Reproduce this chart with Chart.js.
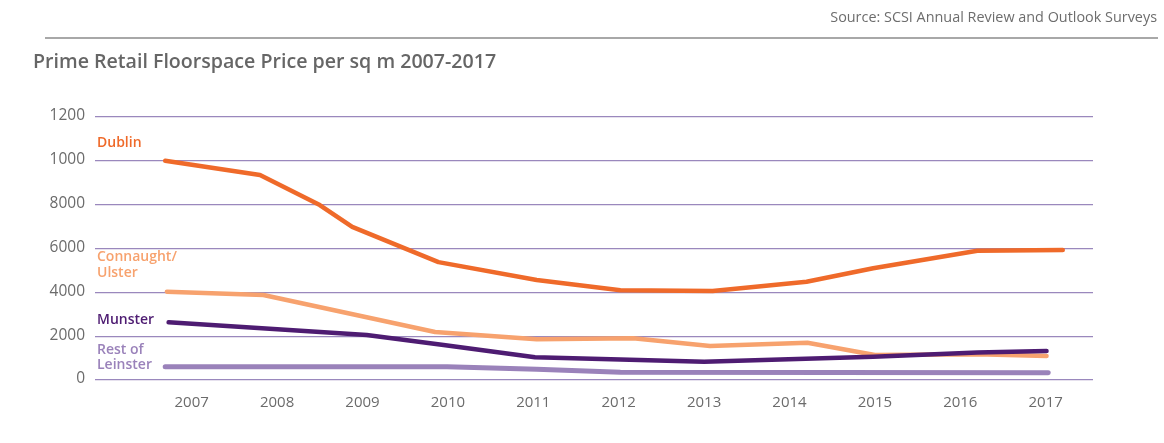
<!DOCTYPE html>
<html><head><meta charset="utf-8">
<script src="https://cdn.jsdelivr.net/npm/chart.js@4.4.1/dist/chart.umd.min.js"></script>
<style>
html,body{margin:0;padding:0;background:#fff;}
#wrap{position:relative;width:1164px;height:443px;overflow:hidden;font-family:"Open Sans",Lato,sans-serif;}
#c{position:absolute;left:0;top:0;}
#source{position:absolute;right:7px;top:10px;font-size:14.4px;line-height:14px;color:#6d6d6d;white-space:nowrap;}
#rule{position:absolute;left:45px;right:6px;top:37px;height:2px;background:#a8a8a8;}
#title{position:absolute;left:33px;top:51px;font-size:19.6px;line-height:19px;font-weight:600;color:#666;white-space:nowrap;}
</style></head>
<body><div id="wrap">
<canvas id="c" width="1164" height="443"></canvas>
<div id="source">Source: SCSI Annual Review and Outlook Surveys</div>
<div id="rule"></div>
<div id="title">Prime Retail Floorspace Price per sq m 2007-2017</div>
</div>
<script>
// Tick labels
const yearTicks = [2007, 2008, 2009, 2010, 2011, 2012, 2013, 2014, 2015, 2016, 2017];
const yTickValues = [0, 2000, 4000, 6000, 8000, 10000, 12000];
const yTickLabels = ["0", "2000", "4000", "6000", "8000", "1000", "1200"];

// Series (positions along the year axis as drawn in the source, values in EUR per sq m)
const dublinYears  = [2006.69, 2007.80, 2008.50, 2008.88, 2009.89, 2011.04, 2012.02, 2013.10, 2014.20, 2014.98, 2016.20, 2017.20];
const dublinValues = [10000,   9350,    7980,    6990,    5380,    4560,    4100,    4060,    4480,    5100,    5900,    5930];

const connaughtYears  = [2006.71, 2007.84, 2009.85, 2011.04, 2012.17, 2013.07, 2014.21, 2015.00, 2016.20, 2017.01];
const connaughtValues = [4030,    3880,    2190,    1860,    1900,    1550,    1700,    1140,    1180,    1095];

const munsterYears  = [2006.73, 2009.05, 2009.95, 2011.02, 2012.02, 2013.00, 2014.98, 2016.20, 2017.01];
const munsterValues = [2630,    2050,    1600,    1035,    940,     835,     1060,    1250,    1320];

const leinsterYears  = [2006.69, 2009.99, 2011.04, 2012.02, 2017.03];
const leinsterValues = [610,     610,     490,     350,     330];

const seriesLabels = [
  {lines: ["Dublin"], at: [10810], color: "#EF6A2A"},
  {lines: ["Connaught/", "Ulster"], at: [5610, 4880], color: "#F7A26E"},
  {lines: ["Munster"], at: [2740], color: "#4E1C72"},
  {lines: ["Rest of", "Leinster"], at: [1370, 680], color: "#9A82BA"}
];

const pts = (xs, ys) => xs.map((x, i) => ({x: x, y: ys[i]}));

const labelPlugin = {
  id: 'seriesLabels',
  afterDatasetsDraw(chart) {
    const ctx = chart.ctx, ys = chart.scales.y, left = chart.chartArea.left + 2;
    ctx.save();
    ctx.font = '600 14px "Open Sans", Lato, sans-serif';
    ctx.textBaseline = 'middle';
    ctx.textAlign = 'left';
    seriesLabels.forEach(l => {
      ctx.fillStyle = l.color;
      l.lines.forEach((t, i) => ctx.fillText(t, left, ys.getPixelForValue(l.at[i])));
    });
    ctx.restore();
  }
};

const common = {fill: false, tension: 0, pointRadius: 0, pointHoverRadius: 0,
  borderCapStyle: 'round', borderJoinStyle: 'round'};

new Chart(document.getElementById('c'), {
  type: 'line',
  data: {
    datasets: [
      Object.assign({label: 'Munster', data: pts(munsterYears, munsterValues), borderColor: '#4E1C72', borderWidth: 4.5}, common),
      Object.assign({label: 'Dublin', data: pts(dublinYears, dublinValues), borderColor: '#EF6A2A', borderWidth: 4.5}, common),
      Object.assign({label: 'Connaught/Ulster', data: pts(connaughtYears, connaughtValues), borderColor: '#F7A26E', borderWidth: 4.5}, common),
      Object.assign({label: 'Rest of Leinster', data: pts(leinsterYears, leinsterValues), borderColor: '#9A82BA', borderWidth: 5}, common)
    ]
  },
  options: {
    responsive: false,
    animation: false,
    events: [],
    layout: {padding: {top: 117, right: 71, left: 0, bottom: 0}},
    plugins: {legend: {display: false}, tooltip: {enabled: false}, title: {display: false}},
    scales: {
      x: {
        type: 'linear',
        min: 2005.868, max: 2017.554,
        afterFit: s => { s.height = 63; },
        grid: {display: false},
        border: {display: false},
        ticks: {stepSize: 1, includeBounds: false, color: '#6b6b6b', font: {family: '"Open Sans"', size: 15}, padding: 6,
          maxRotation: 0, autoSkip: false,
          callback: v => yearTicks.includes(v) ? String(v) : null}
      },
      y: {
        min: 0, max: 12000,
        afterBuildTicks: s => { s.ticks = yTickValues.map(v => ({value: v})); },
        afterFit: s => { s.width = 95; },
        grid: {color: '#9a88bd', lineWidth: 1.3, drawTicks: false},
        border: {display: false},
        ticks: {color: '#6b6b6b', font: {family: '"Open Sans"', size: 15.5}, padding: 10, labelOffset: -1, autoSkip: false,
          callback: (v, i) => yTickLabels[i]}
      }
    }
  },
  plugins: [labelPlugin]
});
</script>
</body></html>
